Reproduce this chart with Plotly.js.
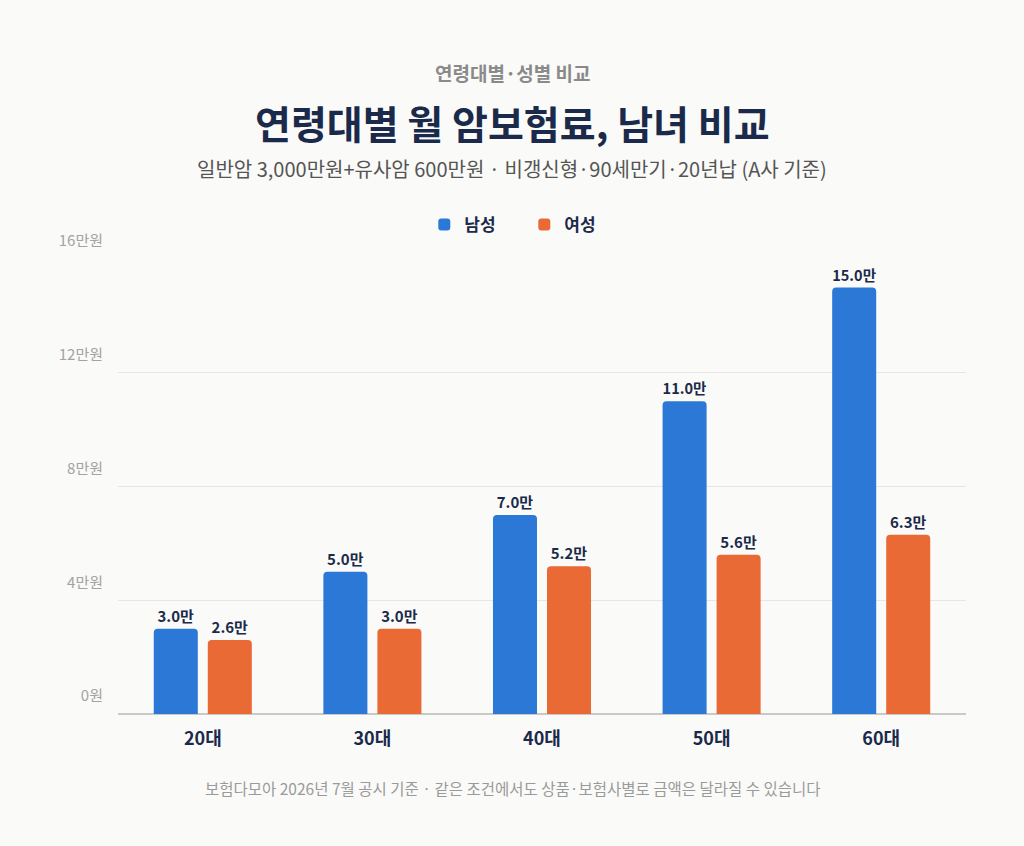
<!DOCTYPE html>
<html>
<head>
<meta charset="utf-8">
<script src="https://cdn.plot.ly/plotly-3.0.1.min.js"></script>
<style>
  html, body { margin: 0; padding: 0; background: #FAFAF8; }
  #graph { width: 1024px; height: 846px; }
</style>
</head>
<body>
<div id="graph"></div>
<script>
// age groups and monthly premium (만원)
var ageGroups = ["20대", "30대", "40대", "50대", "60대"];
var maleValues = [3.0, 5.0, 7.0, 11.0, 15.0];
var femaleValues = [2.6, 3.0, 5.2, 5.6, 6.3];
var yTicks = [0, 4, 8, 12, 16];
var yTickLabels = ["0원", "4만원", "8만원", "12만원", "16만원"];

var FONT = "'Noto Sans CJK KR', 'Noto Sans', sans-serif";
var NAVY = "#1B2A4A";
var TOP = 259, BOTTOM = 714; // plot area in pixels

function labels(vals){
  return vals.map(function(v){ return v.toFixed(1) + "만"; });
}
// pixel row -> paper y
function py(p){ return (BOTTOM - p) / (BOTTOM - TOP); }
var MIDX = (512 - 118) / 848;

var data = [
  {type:"bar", name:"남성", x:ageGroups, y:maleValues,
   marker:{color:"#2B78D6"},
   text:labels(maleValues), textposition:"outside", cliponaxis:false,
   textfont:{family:FONT, size:15, color:NAVY, weight:700},
   hoverinfo:"none"},
  {type:"bar", name:"여성", x:ageGroups, y:femaleValues,
   marker:{color:"#EA6A35"},
   text:labels(femaleValues), textposition:"outside", cliponaxis:false,
   textfont:{family:FONT, size:15, color:NAVY, weight:700},
   hoverinfo:"none"}
];

var layout = {
  width:1024, height:846,
  paper_bgcolor:"#FAFAF8", plot_bgcolor:"#FAFAF8",
  font:{family:FONT},
  margin:{l:118, r:58, t:TOP, b:846-BOTTOM},
  barmode:"group",
  bargap:0.363,
  bargroupgap:0.185,
  barcornerradius:4,
  showlegend:true,
  legend:{orientation:"h", xref:"container", yref:"container",
    x:0.512, xanchor:"center", y:1-225/846, yanchor:"middle",
    font:{family:FONT, size:17, color:NAVY, weight:700},
    itemwidth:30, tracegroupgap:0, traceorder:"normal",
    entrywidth:55, entrywidthmode:"pixels"},
  xaxis:{
    range:[-0.5, 4.5],
    tickfont:{family:FONT, size:18, color:NAVY, weight:700},
    ticks:"", showgrid:false, showline:false,
    ticklabelstandoff:12, fixedrange:true
  },
  yaxis:{
    range:[0,16], tickvals:yTicks, ticktext:yTickLabels,
    tickfont:{family:FONT, size:15, color:"#A3A3A3"},
    gridcolor:"#E6E6E4", gridwidth:1,
    zeroline:true, zerolinecolor:"#C9C9C6", zerolinewidth:2,
    ticks:"", ticklabelshift:-18, ticklabelstandoff:14,
    showline:false, fixedrange:true
  },
  annotations:[
    {text:"연령대별·성별 비교", showarrow:false,
     xref:"paper", yref:"paper", x:MIDX, y:py(73), xanchor:"center", yanchor:"middle",
     font:{family:FONT, size:19, color:"#8A8A8A", weight:700}},
    {text:"연령대별 월 암보험료, 남녀 비교", showarrow:false,
     xref:"paper", yref:"paper", x:MIDX, y:py(122), xanchor:"center", yanchor:"middle",
     font:{family:FONT, size:39, color:NAVY, weight:700}},
    {text:"일반암 3,000만원+유사암 600만원 · 비갱신형·90세만기·20년납 (A사 기준)", showarrow:false,
     xref:"paper", yref:"paper", x:MIDX, y:py(168), xanchor:"center", yanchor:"middle",
     font:{family:FONT, size:20, color:"#555555"}},
    {text:"보험다모아 2026년 7월 공시 기준 · 같은 조건에서도 상품·보험사별로 금액은 달라질 수 있습니다", showarrow:false,
     xref:"paper", yref:"paper", x:MIDX, y:py(788), xanchor:"center", yanchor:"middle",
     font:{family:FONT, size:15.5, color:"#9A9A9A"}}
  ]
};

Plotly.newPlot("graph", data, layout, {displayModeBar:false, staticPlot:true});
</script>
</body>
</html>
